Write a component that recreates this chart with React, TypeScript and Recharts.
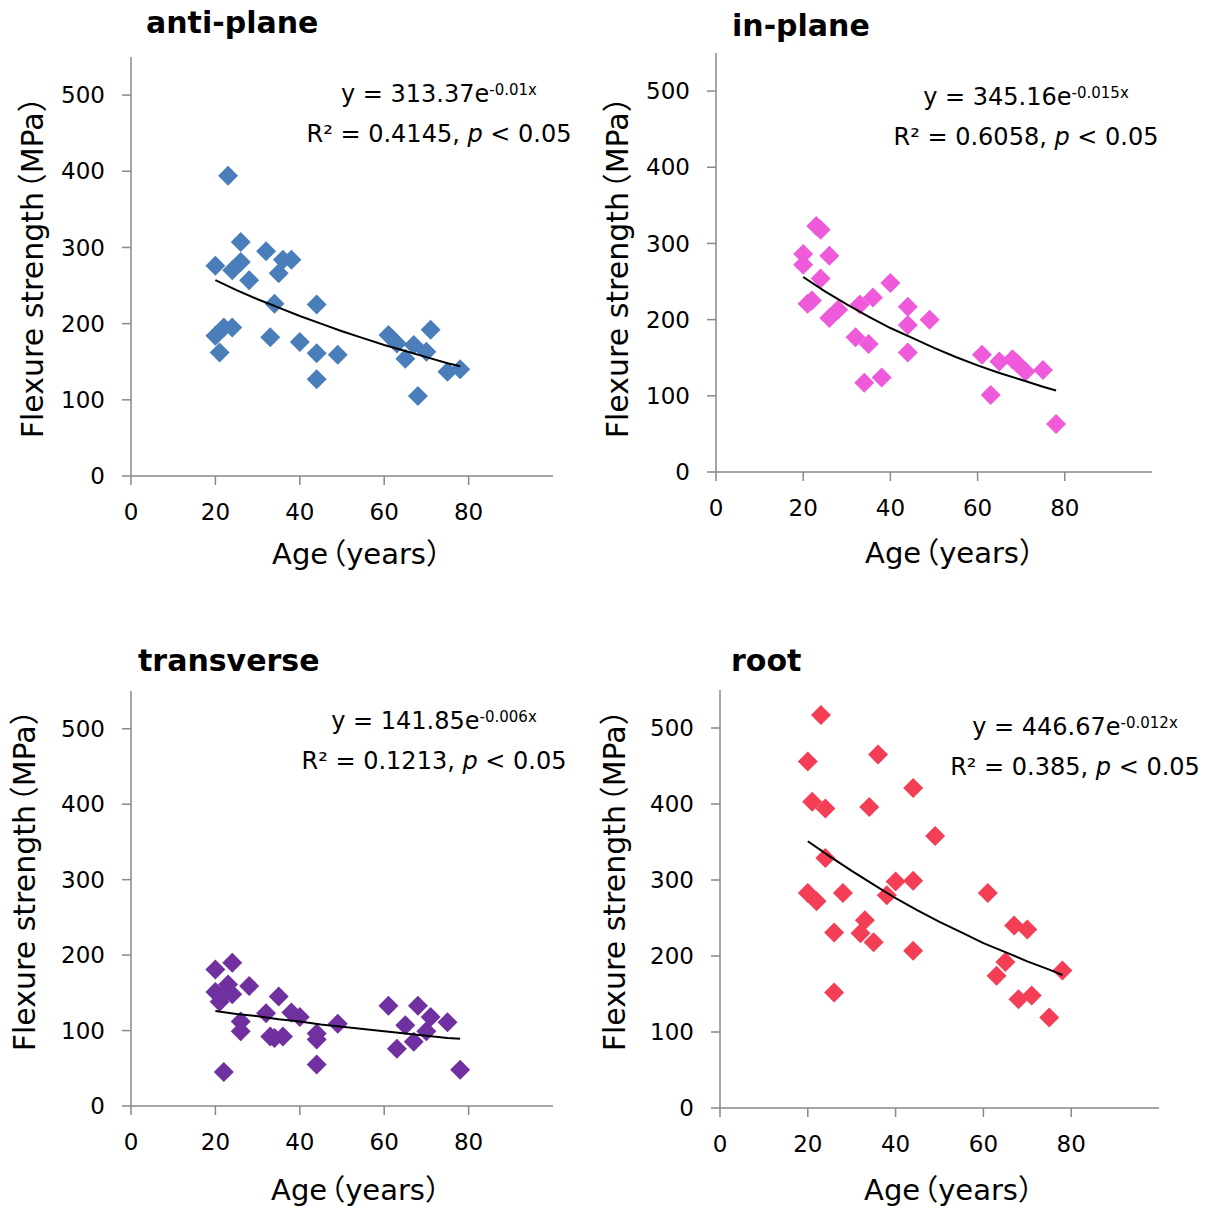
import React from 'react';
import { ScatterChart, Scatter, XAxis, YAxis } from 'recharts';

const FONT = '"DejaVu Sans", "Noto Sans CJK SC", sans-serif';
const AXIS = '#898989';

// ages shared by the fitted curves
const fitAges = [20, 25, 30, 35, 40, 45, 50, 55, 60, 65, 70, 75, 78];

// anti-plane
const antiAges = [23, 26, 32, 20, 26, 24, 28, 36, 38, 35, 34, 44, 20, 22, 24, 21, 33, 40, 44, 49, 44, 61, 63, 67, 70, 65, 71, 68, 75, 78];
const antiStrength = [394, 307, 295, 276, 281, 270, 257, 284, 284, 266, 226, 225, 184, 195, 195, 162, 182, 176, 161, 159, 127, 185, 174, 172, 163, 154, 192, 105, 137, 140];
const antiFit = [257, 244, 232, 221, 210, 200, 190, 181, 172, 164, 156, 148, 144];

// in-plane
const inAges = [23, 24, 20, 20, 26, 24, 40, 36, 33, 21, 22, 26, 28, 44, 44, 49, 32, 35, 44, 34, 38, 61, 65, 68, 69, 71, 75, 63, 78];
const inStrength = [323, 318, 286, 272, 284, 254, 248, 229, 220, 221, 225, 202, 213, 217, 193, 200, 177, 168, 157, 117, 124, 154, 145, 148, 143, 132, 134, 101, 63];
const inFit = [256, 237, 220, 204, 189, 176, 163, 151, 140, 130, 121, 112, 107];

// transverse
const trAges = [20, 24, 20, 23, 24, 21, 22, 28, 35, 32, 38, 40, 26, 26, 33, 34, 36, 44, 44, 49, 22, 44, 61, 68, 71, 65, 75, 70, 67, 63, 78];
const trStrength = [181, 190, 151, 161, 148, 138, 149, 159, 145, 123, 124, 118, 112, 99, 92, 90, 92, 96, 88, 109, 45, 55, 133, 133, 118, 107, 111, 99, 85, 76, 48];
const trFit = [126, 122, 119, 115, 112, 108, 105, 102, 99, 96, 93, 90, 89];

// root
const rootAges = [23, 20, 36, 44, 21, 24, 34, 49, 24, 20, 22, 28, 38, 40, 44, 61, 33, 32, 26, 35, 44, 67, 70, 65, 63, 78, 68, 71, 75, 26];
const rootStrength = [517, 456, 465, 421, 403, 394, 396, 358, 329, 283, 272, 283, 280, 298, 299, 283, 247, 230, 231, 218, 207, 240, 235, 192, 174, 181, 143, 148, 119, 152];
const rootFit = [351, 331, 312, 294, 276, 260, 245, 231, 217, 205, 193, 182, 175];

const xTicks = [0, 20, 40, 60, 80];
const yTicks = [0, 100, 200, 300, 400, 500];

const toPts = (xs: number[], ys: number[]) => xs.map((x, i) => ({ x, y: ys[i] }));

const Diamond = (color: string) => (props: any) => {
  const { cx, cy } = props;
  const r = 10;
  return <path d={`M${cx},${cy - r}L${cx + r},${cy}L${cx},${cy + r}L${cx - r},${cy}Z`} fill={color} />;
};

type PanelProps = {
  title: string;
  color: string;
  ages: number[];
  strength: number[];
  fit: number[];
  plot: [number, number, number, number]; // left, top, right, bottom
  coef: string;
  expo: string;
  r2: string;
  eq: [number, number];
  titlePos: [number, number];
  yLab: [number, number];
  xLab: [number, number];
};

const Txt = ({ x, y, children, style }: any) => (
  <div
    style={{
      position: 'absolute',
      left: x,
      top: y,
      transform: 'translate(-50%, -50%)',
      whiteSpace: 'nowrap',
      fontFamily: FONT,
      color: '#000',
      ...style,
    }}
  >
    {children}
  </div>
);

// half-width forms of the full-width brackets, with a little air around them
const Open = () => <span style={{ fontFeatureSettings: '"halt"', paddingLeft: '0.12em' }}>（</span>;
const Close = () => <span style={{ fontFeatureSettings: '"halt"', paddingRight: '0.12em' }}>）</span>;

const Panel = (p: PanelProps) => {
  const [l, t, r, b] = p.plot;
  const yw = 110;
  const xh = 70;
  const width = r - l + yw + 20;
  const height = b - t + 20 + xh;
  const tickStyle = { fontFamily: FONT, fontSize: 23, fill: '#000' };
  return (
    <>
      <div style={{ position: 'absolute', left: l - yw, top: t - 20 }}>
        <ScatterChart width={width} height={height} margin={{ top: 20, right: 20, bottom: 0, left: 0 }}>
          <XAxis
            type="number"
            dataKey="x"
            domain={[0, 100]}
            ticks={xTicks}
            height={xh}
            stroke={AXIS}
            strokeWidth={1.5}
            tickSize={9}
            tickMargin={19}
            tick={tickStyle}
          />
          <YAxis
            type="number"
            dataKey="y"
            domain={[0, 550]}
            ticks={yTicks}
            width={yw}
            stroke={AXIS}
            strokeWidth={1.5}
            tickSize={9}
            tickMargin={17}
            tick={tickStyle}
          />
          <Scatter data={toPts(p.ages, p.strength)} shape={Diamond(p.color)} isAnimationActive={false} />
          <Scatter
            data={toPts(fitAges, p.fit)}
            line={{ stroke: '#000', strokeWidth: 2 }}
            lineType="joint"
            shape={() => <g />}
            isAnimationActive={false}
          />
        </ScatterChart>
      </div>
      <div
        style={{
          position: 'absolute',
          left: p.titlePos[0],
          top: p.titlePos[1],
          transform: 'translateY(-50%)',
          fontFamily: FONT,
          fontWeight: 'bold',
          fontSize: 30,
          whiteSpace: 'nowrap',
        }}
      >
        {p.title}
      </div>
      <Txt x={p.eq[0]} y={p.eq[1]} style={{ fontSize: 24, textAlign: 'center', lineHeight: '40px' }}>
        <div>
          y = {p.coef}e<sup style={{ fontSize: 15, verticalAlign: 'top', position: 'relative', top: -4 }}>{p.expo}</sup>
        </div>
        <div>
          R² = {p.r2}, <i>p</i> &lt; 0.05
        </div>
      </Txt>
      <Txt x={p.yLab[0]} y={p.yLab[1]} style={{ fontSize: 30, transform: 'translate(-50%, -50%) rotate(-90deg)' }}>
        Flexure strength<Open />MPa<Close />
      </Txt>
      <Txt x={p.xLab[0]} y={p.xLab[1]} style={{ fontSize: 29 }}>
        Age<Open />years<Close />
      </Txt>
    </>
  );
};

export default function App() {
  return (
    <div style={{ position: 'absolute', left: 0, top: 0, width: 1216, height: 1206, background: '#fff' }}>
      <Panel
        title="anti-plane"
        color="#4A7EBB"
        ages={antiAges}
        strength={antiStrength}
        fit={antiFit}
        plot={[131, 57, 553, 476]}
        coef="313.37"
        expo="-0.01x"
        r2="0.4145"
        eq={[439, 114]}
        titlePos={[146, 22]}
        yLab={[30, 266]}
        xLab={[358, 551]}
      />
      <Panel
        title="in-plane"
        color="#EE5ADA"
        ages={inAges}
        strength={inStrength}
        fit={inFit}
        plot={[716, 53, 1152, 472]}
        coef="345.16"
        expo="-0.015x"
        r2="0.6058"
        eq={[1026, 117]}
        titlePos={[732, 25]}
        yLab={[615, 266]}
        xLab={[951, 550]}
      />
      <Panel
        title="transverse"
        color="#7030A0"
        ages={trAges}
        strength={trStrength}
        fit={trFit}
        plot={[131, 691, 553, 1106]}
        coef="141.85"
        expo="-0.006x"
        r2="0.1213"
        eq={[434, 741]}
        titlePos={[138, 660]}
        yLab={[22, 879]}
        xLab={[357, 1187]}
      />
      <Panel
        title="root"
        color="#F33E55"
        ages={rootAges}
        strength={rootStrength}
        fit={rootFit}
        plot={[720, 690, 1159, 1108]}
        coef="446.67"
        expo="-0.012x"
        r2="0.385"
        eq={[1075, 747]}
        titlePos={[731, 660]}
        yLab={[612, 879]}
        xLab={[950, 1187]}
      />
    </div>
  );
}
